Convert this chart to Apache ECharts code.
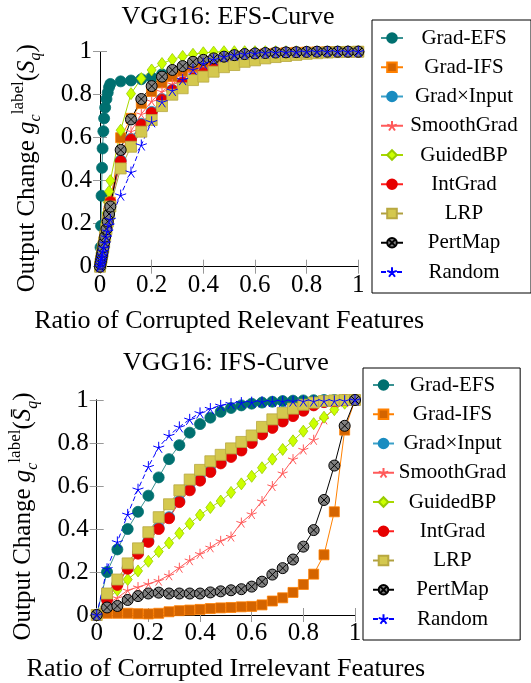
<!DOCTYPE html>
<html><head><meta charset="utf-8">
<script src="https://cdn.jsdelivr.net/npm/echarts@6/dist/echarts.min.js"></script>
<style>html,body{margin:0;padding:0;background:#fff}#c{width:531px;height:683px}</style>
</head><body><div id="c"></div>
<script>
// ---------- data ----------
const methods = ['Grad-EFS','Grad-IFS','Grad\u00d7Input','SmoothGrad','GuidedBP','IntGrad','LRP','PertMap','Random'];
const xTicks = [0, 0.2, 0.4, 0.6, 0.8, 1];
const yTicks = [0, 0.2, 0.4, 0.6, 0.8, 1];

// EFS curve (top): dense start, then every 0.04
const xEFS = [0,0.002,0.004,0.006,0.008,0.01,0.013,0.016,0.02,0.025,0.03,0.035,
  0.04,0.08,0.12,0.16,0.2,0.24,0.28,0.32,0.36,0.4,0.44,0.48,0.52,0.56,0.6,0.64,0.68,0.72,0.76,0.8,0.84,0.88,0.92,0.96,1];
const efsGradEFS = [0,0.09,0.19,0.33,0.46,0.55,0.63,0.69,0.74,0.78,0.81,0.835,
  0.85,0.862,0.866,0.872,0.88,0.895,0.91,0.925,0.94,0.952,0.962,0.97,0.977,0.982,0.986,0.99,0.992,0.994,0.995,0.996,0.997,0.998,0.999,1,1];
const efsGradIFS = [0,0.015,0.03,0.045,0.06,0.075,0.1,0.12,0.15,0.19,0.225,0.26,
  0.3,0.6,0.69,0.76,0.815,0.855,0.885,0.91,0.93,0.945,0.957,0.967,0.975,0.981,0.986,0.99,0.993,0.995,0.997,0.998,0.999,1,1,1,1];
const efsGradInput = [0,0.014,0.029,0.044,0.058,0.072,0.094,0.116,0.145,0.18,0.218,0.254,
  0.29,0.495,0.595,0.665,0.72,0.78,0.823,0.858,0.878,0.902,0.924,0.94,0.955,0.966,0.975,0.982,0.987,0.991,0.994,0.996,0.998,0.999,1,1,1];
const efsSmoothGrad = [0,0.016,0.031,0.046,0.061,0.076,0.098,0.121,0.152,0.188,0.226,0.263,
  0.3,0.52,0.63,0.71,0.77,0.815,0.85,0.88,0.9,0.92,0.935,0.95,0.96,0.97,0.977,0.983,0.988,0.992,0.995,0.997,0.998,0.999,1,1,1];
const efsGuidedBP = [0,0.02,0.04,0.06,0.08,0.1,0.13,0.16,0.2,0.25,0.3,0.35,
  0.4,0.635,0.805,0.875,0.915,0.945,0.964,0.978,0.988,0.995,0.998,1,1,1,1,1,1,1,1,1,1,1,1,1,1];
const efsIntGrad = [0,0.015,0.03,0.044,0.059,0.074,0.097,0.119,0.149,0.186,0.224,0.262,
  0.3,0.49,0.59,0.66,0.715,0.775,0.82,0.855,0.875,0.9,0.922,0.94,0.953,0.965,0.974,0.981,0.986,0.99,0.993,0.995,0.997,0.998,0.999,1,1];
const efsLRP = [0,0.014,0.028,0.042,0.056,0.07,0.091,0.112,0.14,0.175,0.21,0.245,
  0.28,0.457,0.558,0.628,0.682,0.747,0.8,0.83,0.868,0.884,0.907,0.928,0.938,0.953,0.96,0.969,0.975,0.98,0.985,0.99,0.993,0.996,0.998,0.999,1];
const efsPertMap = [0,0.014,0.028,0.042,0.056,0.07,0.09,0.112,0.14,0.175,0.21,0.245,
  0.28,0.543,0.685,0.78,0.84,0.884,0.915,0.933,0.953,0.962,0.969,0.977,0.984,0.989,0.992,0.994,0.996,0.997,0.998,0.999,1,1,1,1,1];
const efsRandom = [0,0.011,0.022,0.033,0.044,0.055,0.072,0.088,0.11,0.138,0.165,0.193,
  0.22,0.333,0.44,0.566,0.674,0.767,0.82,0.87,0.918,0.946,0.964,0.977,0.984,0.989,0.992,0.994,0.996,0.997,0.998,0.999,1,1,1,1,1];

// IFS curve (bottom): every 0.04
const xIFS = [0,0.04,0.08,0.12,0.16,0.2,0.24,0.28,0.32,0.36,0.4,0.44,0.48,0.52,0.56,0.6,0.64,0.68,0.72,0.76,0.8,0.84,0.88,0.92,0.96,1];
const ifsGradEFS = [0,0.2,0.305,0.4,0.48,0.555,0.64,0.725,0.79,0.848,0.888,0.918,0.945,0.963,0.975,0.983,0.988,0.992,0.995,0.997,0.998,0.999,1,1,1,1];
const ifsGradIFS = [0,0.008,0.008,0.008,0.006,0.005,0.008,0.015,0.02,0.023,0.026,0.03,0.033,0.035,0.038,0.04,0.047,0.065,0.08,0.105,0.142,0.19,0.28,0.48,0.86,1];
const ifsGradInput = [0,0.075,0.145,0.22,0.29,0.345,0.405,0.455,0.53,0.585,0.63,0.67,0.71,0.74,0.77,0.805,0.845,0.875,0.905,0.93,0.955,0.978,0.991,0.996,1,1];
const ifsSmoothGrad = [0,0.05,0.08,0.115,0.13,0.145,0.16,0.185,0.22,0.255,0.285,0.315,0.345,0.365,0.43,0.47,0.53,0.6,0.66,0.725,0.77,0.815,0.91,0.965,0.99,1];
const ifsGuidedBP = [0,0.07,0.116,0.165,0.205,0.25,0.295,0.335,0.38,0.425,0.465,0.5,0.53,0.57,0.61,0.645,0.685,0.725,0.77,0.81,0.855,0.89,0.92,0.955,0.985,1];
const ifsIntGrad = [0,0.07,0.14,0.215,0.285,0.34,0.4,0.45,0.525,0.58,0.625,0.665,0.705,0.735,0.765,0.8,0.84,0.87,0.9,0.925,0.95,0.975,0.99,0.995,1,1];
const ifsLRP = [0,0.1,0.165,0.24,0.31,0.385,0.455,0.515,0.58,0.63,0.675,0.715,0.745,0.775,0.805,0.835,0.875,0.91,0.94,0.96,0.978,0.988,0.995,0.998,1,1];
const ifsPertMap = [0,0.035,0.042,0.07,0.088,0.1,0.104,0.1,0.1,0.1,0.1,0.105,0.11,0.115,0.12,0.132,0.155,0.188,0.218,0.258,0.318,0.395,0.535,0.695,0.88,1];
const ifsRandom = [0,0.215,0.34,0.468,0.585,0.69,0.78,0.835,0.875,0.91,0.94,0.96,0.975,0.983,0.988,0.99,0.992,0.993,0.994,0.995,0.995,0.995,0.996,0.996,0.997,1];

const efsY = [efsGradEFS,efsGradIFS,efsGradInput,efsSmoothGrad,efsGuidedBP,efsIntGrad,efsLRP,efsPertMap,efsRandom];
const ifsY = [ifsGradEFS,ifsGradIFS,ifsGradInput,ifsSmoothGrad,ifsGuidedBP,ifsIntGrad,ifsLRP,ifsPertMap,ifsRandom];

// ---------- styles ----------
const SERIF = '"Liberation Serif", "Times New Roman", serif';
const PERT = 'path://M10,0A10,10,0,1,1,-10,0A10,10,0,1,1,10,0ZM-7.07,-7.07L7.07,7.07M7.07,-7.07L-7.07,7.07';
const STAR = 'path://M0,0L0,-10M0,0L9.51,-3.09M0,0L5.88,8.09M0,0L-5.88,8.09M0,0L-9.51,-3.09';
const styles = [
  {symbol:'circle', size:11, fill:'#007070', border:'#007070', line:'#3a9292'},
  {symbol:'rect', size:10, fill:'#d46400', border:'#ff8000', line:'#ff8000'},
  {symbol:'circle', size:11, fill:'#1a8cc0', border:'#1a8cc0', line:'#3aa0c8'},
  {symbol:STAR, size:10, fill:'none', border:'#ff5a5a', line:'#ff5a5a', bw:1},
  {symbol:'diamond', size:[9,12], fill:'#ccff00', border:'#99cc00', line:'#a8d800'},
  {symbol:'circle', size:11, fill:'#e60000', border:'#e60000', line:'#ff2020'},
  {symbol:'rect', size:11, fill:'#d4c84e', border:'#b8a840', line:'#b0a040'},
  {symbol:PERT, size:11, fill:'#808080', border:'#000000', line:'#000000', bw:1},
  {symbol:STAR, size:11, fill:'none', border:'#0000ff', line:'#0000ff', bw:1, dash:[5,3]}
];

function makeSeries(xs, ys, gi) {
  return methods.map((name, k) => {
    const s = styles[k];
    return {
      type:'line', name, xAxisIndex: gi*2, yAxisIndex: gi*2,
      data: xs.map((x, i) => [x, ys[k][i]]),
      symbol: s.symbol, symbolSize: s.size, showAllSymbol: true, clip: false,
      itemStyle: {color: s.fill === 'none' ? s.border : s.fill, borderColor: s.border, borderWidth: s.bw || 0.8},
      lineStyle: {color: s.line, width: 1, type: s.dash || 'solid'},
      emphasis: {disabled: true}, animation: false
    };
  });
}

function axesFor(gi) {
  const common = {type:'value', gridIndex: gi, min: xTicks[0], max: xTicks[xTicks.length-1], interval: 0.2,
    axisLine:{show:true, lineStyle:{color:'#000', width:1}},
    axisTick:{show:true, inside:true, length:7, lineStyle:{color:'#999'}},
    splitLine:{show:false}};
  const lbl = {fontFamily: SERIF, fontSize: 25, color:'#000'};
  return {
    x: [
      Object.assign({}, common, {position:'bottom', axisLabel:Object.assign({margin:6}, lbl),
        name: gi===0 ? 'Ratio of Corrupted Relevant Features' : 'Ratio of Corrupted Irrelevant Features',
        nameLocation:'middle', nameGap: 41, nameTextStyle:{fontFamily:SERIF, fontSize:26, color:'#000'}}),
      Object.assign({}, common, {position:'top', axisLabel:{show:false}})
    ],
    y: [
      Object.assign({}, common, {position:'left', min: yTicks[0], max: yTicks[yTicks.length-1], axisLabel:Object.assign({margin:8}, lbl),
        name: gi===0 ? '{t|Output Change }{i|g}{sub|c}{sup|label}{t|(}{i|S}{sub|q}{t|)}'
                     : '{t|Output Change }{i|g}{sub|c}{sup|label}{t|(}{i|S\u0304}{sub|q}{t|)}',
        nameLocation:'middle', nameGap: 56, nameRotate: 90,
        nameTextStyle:{fontFamily:SERIF, fontSize:25, color:'#000', padding:[0, 18, 0, 0], rich:{
          t:{fontFamily:SERIF, fontSize:25, color:'#000', lineHeight:34},
          i:{fontFamily:SERIF, fontSize:25, fontStyle:'italic', color:'#000', lineHeight:34},
          sub:{fontFamily:SERIF, fontSize:16, fontStyle:'italic', color:'#000', verticalAlign:'bottom', lineHeight:22},
          sup:{fontFamily:SERIF, fontSize:17, color:'#000', verticalAlign:'top', lineHeight:20}
        }}}),
      Object.assign({}, common, {position:'right', min: yTicks[0], max: yTicks[yTicks.length-1], axisLabel:{show:false}})
    ]
  };
}

const a0 = axesFor(0), a1 = axesFor(1);
function legendFor(left, top, w, pad, iw) {
  return {
    show:true, orient:'vertical', left, top, padding: pad,
    itemWidth: iw, itemHeight: 12, itemGap: 7.25,
    borderColor:'#000', borderWidth:1, borderRadius:0,
    selectedMode:false, data: methods,
    formatter: n => '{n|' + n + '}',
    textStyle:{fontFamily:SERIF, fontSize:21, color:'#000', lineHeight:22,
      rich:{n:{fontFamily:SERIF, fontSize:21, color:'#000', width:w, align:'center', lineHeight:22}}}
  };
}

const chart = echarts.init(document.getElementById('c'), null, {renderer:'canvas'});
chart.setOption({
  animation:false,
  backgroundColor:'#fff',
  grid:[
    {left:100, top:51.7, width:258.3, height:215},
    {left:96.7, top:400, width:258.3, height:215}
  ],
  xAxis:[a0.x[0], a0.x[1], a1.x[0], a1.x[1]].map((ax, i) => Object.assign(ax, {gridIndex: i<2?0:1})),
  yAxis:[a0.y[0], a0.y[1], a1.y[0], a1.y[1]].map((ax, i) => Object.assign(ax, {gridIndex: i<2?0:1})),
  legend:[
    legendFor(372, 20, 112, [7, 11, 10, 8], 22),
    legendFor(363, 368, 107, [6, 14, 10, 9], 21)
  ],
  graphic:[
    {type:'text', x:228, y:17, style:{text:'VGG16: EFS-Curve', fontFamily:SERIF, fontSize:26, fill:'#000', textAlign:'center', textVerticalAlign:'middle'}},
    {type:'text', x:226, y:363, style:{text:'VGG16: IFS-Curve', fontFamily:SERIF, fontSize:26, fill:'#000', textAlign:'center', textVerticalAlign:'middle'}}
  ],
  series: makeSeries(xEFS, efsY, 0).concat(makeSeries(xIFS, ifsY, 1).map(s => Object.assign(s, {xAxisIndex:2, yAxisIndex:2})))
});
</script></body></html>
